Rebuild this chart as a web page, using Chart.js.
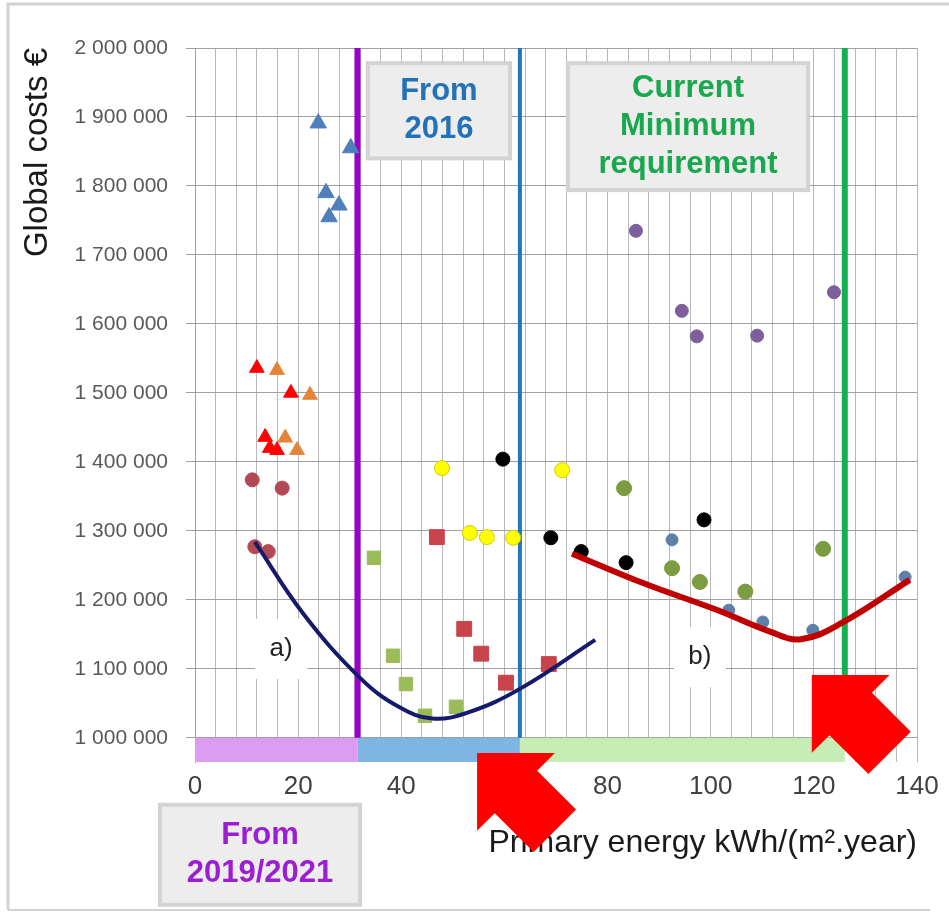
<!DOCTYPE html>
<html lang="en">
<head>
  <meta charset="UTF-8" />
  <title>Global costs vs primary energy</title>
  <script src="https://cdn.jsdelivr.net/npm/chart.js"></script>
  <style>
    html, body { margin: 0; padding: 0; background: #fff; }
    .wrap { position: relative; width: 949px; height: 913px; }
  </style>
</head>
<body>
  <div class="wrap"><canvas id="costChart" width="949" height="913"></canvas></div>

  <script>
    // ---- data (x: kWh/(m2.year), y: global costs EUR) ----
    const blueTriX = [23.9, 30.2, 25.4, 27.9, 26.0];
    const blueTriY = [1891000, 1855000, 1790000, 1772000, 1755000];

    const redTriX = [12.0, 18.6, 13.6, 14.5, 15.9];
    const redTriY = [1536000, 1500000, 1436000, 1420000, 1417000];

    const orangeTriX = [15.9, 22.3, 17.5, 19.8];
    const orangeTriY = [1533000, 1497000, 1435000, 1417000];

    const darkRedDotX = [11.1, 16.9, 11.6, 14.2];
    const darkRedDotY = [1374000, 1362000, 1277000, 1270000];

    const redSqX = [46.9, 52.2, 55.5, 60.3, 68.6];
    const redSqY = [1291000, 1158000, 1122000, 1080000, 1107000];

    const greenSqX = [34.7, 38.4, 40.9, 44.6, 50.6];
    const greenSqY = [1261000, 1119000, 1078000, 1032000, 1045000];

    const yellowDotX = [47.9, 53.3, 56.6, 61.7, 71.2];
    const yellowDotY = [1391000, 1297000, 1291000, 1290000, 1388000];

    const blackDotX = [59.7, 69.0, 74.9, 83.6, 98.7];
    const blackDotY = [1404000, 1290000, 1270000, 1254000, 1316000];

    const purpleDotX = [85.5, 94.4, 97.3, 109.0, 123.9];
    const purpleDotY = [1735000, 1619000, 1582000, 1583000, 1646000];

    const oliveDotX = [83.2, 92.5, 97.9, 106.7, 121.8];
    const oliveDotY = [1362000, 1246000, 1226000, 1212000, 1274000];

    const steelDotX = [92.5, 103.5, 110.1, 119.8, 137.7];
    const steelDotY = [1287000, 1185000, 1168000, 1156000, 1233000];

    // fitted curves a) and b)
    const curveAX = [11.6, 21.0, 32.0, 39.5, 46.0, 53.0, 63.0, 77.6];
    const curveAY = [1284000, 1180000, 1087000, 1045000, 1028000, 1037000, 1071000, 1142000];

    const curveBX = [73.1, 87.0, 101.0, 111.5, 117.5, 125.5, 138.6];
    const curveBY = [1267000, 1224000, 1186000, 1154000, 1143000, 1167000, 1229000];

    // axes
    const yTickValues = [1000000, 1100000, 1200000, 1300000, 1400000, 1500000,
                         1600000, 1700000, 1800000, 1900000, 2000000];
    const xLabelValues = [0, 20, 40, 60, 80, 100, 120, 140];

    // requirement zones along the x axis
    const zoneEdges = [0, 31.5, 63, 126];
    const zoneBandColors = ['#dc9cf2', '#7fb5e2', '#c6edb4'];
    const zoneLineColors = ['#9a00c8', '#1f78bd', '#12b04f'];
    const zoneLineWidths = [6, 4, 6];
    const bandBottom = 965000;

    function pts(xs, ys) {
      return xs.map((x, i) => ({ x: x, y: ys[i] }));
    }

    function fmt(v) {
      return String(v).replace(/\B(?=(\d{3})+(?!\d))/g, ' ');
    }

    // text boxes, placed in axis units
    const noteBoxes = [
      { x0: 33.5, x1: 61.1, y0: 1978000, y1: 1840000, lines: ['From', '2016'], color: '#2372b9' },
      { x0: 72.3, x1: 118.9, y0: 1978000, y1: 1794000, lines: ['Current', 'Minimum', 'requirement'], color: '#1aa84f' },
      { x0: -6.8, x1: 32.0, y0: 903000, y1: 758000, lines: ['From', '2019/2021'], color: '#9c1ed2' }
    ];
    const curveLabels = [
      { x: 16.7, y: 1129000, text: 'a)' },
      { x: 97.9, y: 1117000, text: 'b)' }
    ];
    const arrowTips = [
      { x: 54.7, y: 978000 },
      { x: 119.6, y: 1091000 }
    ];

    const decor = {
      id: 'decor',
      beforeDraw(chart) {
        const c = chart.ctx;
        c.save();
        c.fillStyle = '#fff';
        c.fillRect(0, 0, chart.width, chart.height);
        c.strokeStyle = '#d2d2d2';
        c.lineWidth = 3;
        c.beginPath();
        c.moveTo(8, chart.height - 3);
        c.lineTo(8, 4);
        c.lineTo(chart.width, 4);
        c.stroke();
        c.lineWidth = 2;
        c.beginPath();
        c.moveTo(8, chart.height - 3);
        c.lineTo(930, chart.height - 3);
        c.stroke();
        c.restore();
      },
      beforeDatasetsDraw(chart) {
        const c = chart.ctx;
        const xs = chart.scales.x, ys = chart.scales.y;
        c.save();

        // coloured bands under the axis
        const bTop = ys.getPixelForValue(1000000);
        const bBot = ys.getPixelForValue(bandBottom);
        for (let i = 0; i < zoneBandColors.length; i++) {
          const a = xs.getPixelForValue(zoneEdges[i]);
          const b = xs.getPixelForValue(zoneEdges[i + 1]);
          c.fillStyle = zoneBandColors[i];
          c.fillRect(a, bTop, b - a, bBot - bTop);
        }

        // vertical requirement lines
        const lTop = ys.getPixelForValue(2000000);
        for (let i = 0; i < zoneLineColors.length; i++) {
          const px = xs.getPixelForValue(zoneEdges[i + 1]);
          c.strokeStyle = zoneLineColors[i];
          c.lineWidth = zoneLineWidths[i];
          c.beginPath();
          c.moveTo(px, lTop);
          c.lineTo(px, bTop);
          c.stroke();
        }

        // grey note boxes
        noteBoxes.forEach(n => {
          const x0 = xs.getPixelForValue(n.x0), x1 = xs.getPixelForValue(n.x1);
          const y0 = ys.getPixelForValue(n.y0), y1 = ys.getPixelForValue(n.y1);
          c.fillStyle = '#ededed';
          c.fillRect(x0, y0, x1 - x0, y1 - y0);
          c.strokeStyle = '#d3d3d3';
          c.lineWidth = 4;
          c.strokeRect(x0, y0, x1 - x0, y1 - y0);
          c.fillStyle = n.color;
          c.font = 'bold 31px "Liberation Sans", Arial, sans-serif';
          c.textAlign = 'center';
          c.textBaseline = 'middle';
          const cx = (x0 + x1) / 2, cy = (y0 + y1) / 2;
          const lh = 38;
          n.lines.forEach((t, i) => {
            c.fillText(t, cx, cy + (i - (n.lines.length - 1) / 2) * lh);
          });
        });

        // a) / b) labels on white patches
        curveLabels.forEach(l => {
          const px = xs.getPixelForValue(l.x), py = ys.getPixelForValue(l.y);
          c.fillStyle = '#fff';
          c.fillRect(px - 26, py - 30, 52, 60);
          c.fillStyle = '#222';
          c.font = '26px "Liberation Sans", Arial, sans-serif';
          c.textAlign = 'center';
          c.textBaseline = 'middle';
          c.fillText(l.text, px, py);
        });
        c.restore();
      },
      afterDraw(chart) {
        const c = chart.ctx;
        const xs = chart.scales.x, ys = chart.scales.y;
        const r = Math.SQRT1_2;
        // outline in (along, across) units, pointing up-left
        const shape = [[0, 0], [55, 55], [55, 30], [110, 30], [110, -30], [55, -30], [55, -55]];
        c.save();
        c.fillStyle = '#ff0000';
        arrowTips.forEach(t => {
          const tx = xs.getPixelForValue(t.x), ty = ys.getPixelForValue(t.y);
          c.beginPath();
          shape.forEach(([d, p], i) => {
            const px = tx + (d + p) * r, py = ty + (d - p) * r;
            if (i === 0) c.moveTo(px, py); else c.lineTo(px, py);
          });
          c.closePath();
          c.fill();
        });
        c.restore();
      }
    };

    Chart.defaults.font.family = '"Liberation Sans", Arial, sans-serif';

    const ctx = document.getElementById('costChart').getContext('2d');
    const costChart = new Chart(ctx, {
      type: 'scatter',
      data: {
        datasets: [
          { label: 'a)', data: pts(curveAX, curveAY), showLine: true, borderColor: '#161a6c',
            borderWidth: 4, pointRadius: 0, tension: 0.4, fill: false },
          { label: 'b)', data: pts(curveBX, curveBY), showLine: true, borderColor: '#c00000',
            borderWidth: 6, pointRadius: 0, tension: 0.4, fill: false },
          { label: 'blue triangles', data: pts(blueTriX, blueTriY), pointStyle: 'triangle', pointRadius: 9.5,
            backgroundColor: '#4f7fbb', borderColor: '#4f7fbb' },
          { label: 'red triangles', data: pts(redTriX, redTriY), pointStyle: 'triangle', pointRadius: 8.5,
            backgroundColor: '#ff0000', borderColor: '#ff0000' },
          { label: 'orange triangles', data: pts(orangeTriX, orangeTriY), pointStyle: 'triangle', pointRadius: 8.5,
            backgroundColor: '#e3843b', borderColor: '#e3843b' },
          { label: 'dark red dots', data: pts(darkRedDotX, darkRedDotY), pointRadius: 7,
            backgroundColor: '#b24a55', borderColor: '#b24a55' },
          { label: 'red squares', data: pts(redSqX, redSqY), pointStyle: 'rect', pointRadius: 10.5,
            backgroundColor: '#c9434b', borderColor: '#c9434b' },
          { label: 'green squares', data: pts(greenSqX, greenSqY), pointStyle: 'rect', pointRadius: 9.5,
            backgroundColor: '#9bbb59', borderColor: '#9bbb59' },
          { label: 'yellow dots', data: pts(yellowDotX, yellowDotY), pointRadius: 7.5,
            backgroundColor: '#ffff00', borderColor: '#cccc10', borderWidth: 1 },
          { label: 'black dots', data: pts(blackDotX, blackDotY), pointRadius: 7,
            backgroundColor: '#000000', borderColor: '#000000' },
          { label: 'purple dots', data: pts(purpleDotX, purpleDotY), pointRadius: 6.5,
            backgroundColor: '#7d5f9c', borderColor: '#7d5f9c' },
          { label: 'olive dots', data: pts(oliveDotX, oliveDotY), pointRadius: 7.5,
            backgroundColor: '#7b9c41', borderColor: '#7b9c41' },
          { label: 'steel dots', data: pts(steelDotX, steelDotY), pointRadius: 6,
            backgroundColor: '#5d7fa8', borderColor: '#5d7fa8' }
        ]
      },
      options: {
        responsive: false,
        animation: false,
        layout: { padding: { top: 48, right: 32, left: 0, bottom: 0 } },
        plugins: {
          legend: { display: false },
          tooltip: { enabled: false }
        },
        scales: {
          x: {
            type: 'linear',
            min: 0,
            max: 140,
            afterFit: s => { s.height = 151; },
            border: { display: false },
            grid: { color: '#b8b8b8', drawTicks: false },
            ticks: {
              stepSize: 4,
              autoSkip: false,
              maxRotation: 0,
              padding: 9,
              color: '#404040',
              font: { size: 26 },
              callback: v => (xLabelValues.includes(v) ? v : '')
            },
            title: {
              display: true,
              text: 'Primary energy kWh/(m².year)',
              align: 'end',
              color: '#1a1a1a',
              font: { size: 32 },
              padding: { top: 0, bottom: 51 }
            }
          },
          y: {
            type: 'linear',
            min: bandBottom,
            max: 2000000,
            afterFit: s => { s.width = 195; },
            afterBuildTicks: s => { s.ticks = yTickValues.map(v => ({ value: v })); },
            border: { color: '#a0a0a0' },
            grid: { color: '#a0a0a0', tickLength: 9 },
            ticks: {
              padding: 18,
              color: '#595959',
              font: { size: 21 },
              callback: v => fmt(v)
            },
            title: {
              display: true,
              text: 'Global costs €',
              align: 'end',
              color: '#1a1a1a',
              font: { size: 33 },
              padding: { top: 18, bottom: 0 }
            }
          }
        }
      },
      plugins: [decor]
    });
  </script>
</body>
</html>
